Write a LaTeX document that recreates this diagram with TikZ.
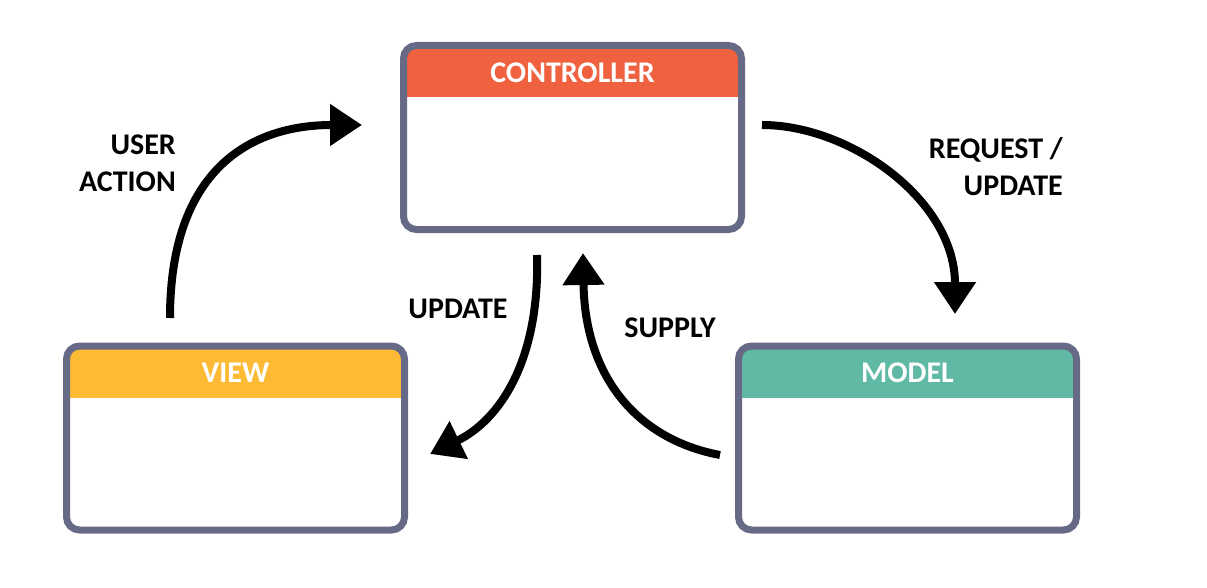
\documentclass[tikz,border=0pt]{standalone}
\usepackage{fontspec}
\setmainfont{Carlito}
\usetikzlibrary{arrows.meta}
\definecolor{frame}{HTML}{676A87}
\definecolor{ctrlred}{HTML}{F0613F}
\definecolor{viewyellow}{HTML}{FDBA35}
\definecolor{modelteal}{HTML}{60B9A5}
\tikzset{
  mvcbox/.style 2 args={draw=frame, line width=7pt, rounded corners=13pt, fill=white,
    minimum width=338pt, minimum height=184pt, inner sep=0pt,
    path picture={
      \fill[#1, sharp corners] (path picture bounding box.north west) rectangle ([yshift=-52pt]path picture bounding box.north east);
      \node[text=white, font=\fontsize{30}{34}\selectfont\bfseries] at ([yshift=-27pt]path picture bounding box.north) {#2};
    }},
  flow/.style={line width=8pt, -{Triangle[length=32pt,width=40pt]}},
  tag/.style={font=\fontsize{30}{37}\selectfont\bfseries, inner sep=0pt}
}
\begin{document}
\begin{tikzpicture}[x=1pt, y=-1pt]
  \useasboundingbox (0,0) rectangle (1207,588);
  % boxes
  \node[mvcbox={ctrlred}{CONTROLLER}] (ctrl) at (572.5,137.5) {};
  \node[mvcbox={viewyellow}{VIEW}] (view) at (235.5,438) {};
  \node[mvcbox={modelteal}{MODEL}] (model) at (907.5,438) {};
  % arrow ends
  \coordinate (A) at (170,318); \coordinate (B) at (362,125);
  \coordinate (C) at (762,125); \coordinate (D) at (955,314);
  \coordinate (E) at (537,255); \coordinate (F) at (430,454);
  \coordinate (G) at (720,455); \coordinate (H) at (583,253);
  % user action / request
  \draw[flow] (A) .. controls (170,170) and (250,125) .. (B);
  \draw[flow] (C) .. controls (850,125) and (955,200) .. (D);
  % update / supply
  \draw[flow] (E) .. controls (540,360) and (500,420) .. (F);
  \draw[flow] (G) .. controls (640,440) and (585,380) .. (H);
  % labels
  \node[tag, anchor=east, align=right] (useraction) at (176,163.5) {USER\\ACTION};
  \node[tag, anchor=east, align=right] (request) at (1063,166.5) {REQUEST /\\UPDATE};
  \node[tag] (update) at (458,309) {UPDATE};
  \node[tag] (supply) at (670,328) {SUPPLY};
\end{tikzpicture}
\end{document}
